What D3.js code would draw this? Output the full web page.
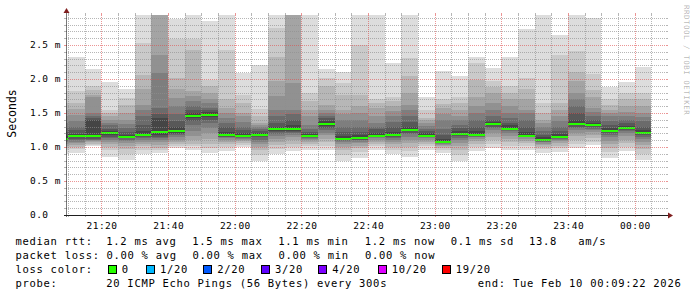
<!DOCTYPE html>
<html><head><meta charset="utf-8">
<script src="https://cdn.jsdelivr.net/npm/d3@7"></script>
<style>
html,body{margin:0;padding:0;background:#fff;}
svg{display:block;}
text{font-family:"DejaVu Sans Mono",monospace;fill:#000;}
</style></head><body>
<svg id="c" width="697" height="297"></svg>
<script>
// ---- data ----
const slotTimes = ["21:05","21:10","21:15","21:20","21:25","21:30","21:35","21:40","21:45","21:50","21:55",
  "22:00","22:05","22:10","22:15","22:20","22:25","22:30","22:35","22:40","22:45","22:50","22:55",
  "23:00","23:05","23:10","23:15","23:20","23:25","23:30","23:35","23:40","23:45","23:50","23:55","00:00"];
const medians = [1.12,1.155,1.155,1.20,1.15,1.18,1.22,1.24,1.45,1.47,1.17,1.16,1.18,1.26,1.26,1.16,1.34,1.12,1.13,
  1.165,1.17,1.25,1.165,1.08,1.19,1.18,1.335,1.27,1.165,1.10,1.15,1.34,1.32,1.24,1.275,1.21];
const lossPct = [0,0,0,0,0,0,0,0,0,0,0,0,0,0,0,0,0,0,0,0,0,0,0,0,0,0,0,0,0,0,0,0,0,0,0,0];
const pings = [
  [0.90,0.96,0.99,1.02,1.05,1.07,1.09,1.10,1.11,1.12,1.13,1.16,1.22,1.28,1.36,1.45,1.55,1.65,1.83,2.30],
  [0.91,0.97,1.00,1.03,1.06,1.08,1.10,1.12,1.14,1.15,1.16,1.19,1.25,1.30,1.38,1.47,1.56,1.65,1.83,2.32],
  [1.01,1.03,1.05,1.07,1.09,1.10,1.11,1.12,1.14,1.15,1.17,1.40,1.42,1.45,1.50,1.73,1.76,1.84,1.90,2.14],
  [0.86,0.95,1.00,1.04,1.07,1.10,1.13,1.15,1.18,1.19,1.21,1.23,1.27,1.32,1.36,1.40,1.45,1.50,1.55,1.95],
  [0.81,0.90,0.97,1.02,1.06,1.09,1.11,1.13,1.14,1.15,1.16,1.18,1.22,1.28,1.34,1.40,1.50,1.62,1.72,1.86],
  [0.89,0.96,1.01,1.05,1.08,1.11,1.13,1.15,1.17,1.18,1.19,1.24,1.32,1.45,1.55,1.62,1.85,2.06,2.53,3.20],
  [0.91,0.95,0.99,1.03,1.07,1.10,1.13,1.15,1.17,1.20,1.24,1.42,1.48,1.57,2.09,2.36,3.00,3.10,3.20,3.30],
  [0.98,1.02,1.05,1.08,1.11,1.14,1.17,1.19,1.21,1.23,1.25,1.30,1.38,1.48,1.60,1.72,1.86,2.01,2.59,2.88],
  [0.96,1.01,1.05,1.10,1.16,1.24,1.32,1.38,1.42,1.44,1.46,1.50,1.55,1.60,1.68,1.75,1.82,2.43,2.59,3.05],
  [0.91,0.98,1.05,1.12,1.20,1.28,1.35,1.40,1.44,1.46,1.48,1.51,1.54,1.58,1.64,1.70,1.80,1.89,1.99,2.86],
  [0.94,1.00,1.05,1.08,1.11,1.13,1.14,1.15,1.16,1.17,1.18,1.22,1.30,1.36,1.42,1.50,1.58,1.70,2.43,3.10],
  [1.00,1.03,1.06,1.09,1.11,1.12,1.13,1.14,1.15,1.16,1.17,1.20,1.25,1.30,1.37,1.45,1.50,1.65,1.77,2.09],
  [0.80,0.88,0.95,1.00,1.04,1.08,1.11,1.14,1.16,1.17,1.19,1.21,1.23,1.26,1.29,1.32,1.36,1.45,1.56,2.20],
  [0.89,0.97,1.03,1.08,1.12,1.16,1.19,1.22,1.24,1.25,1.27,1.30,1.36,1.45,1.55,1.75,1.97,2.33,2.75,3.05],
  [0.94,1.00,1.05,1.10,1.14,1.17,1.20,1.22,1.24,1.25,1.27,1.32,1.40,1.48,1.55,1.94,3.00,3.10,3.20,3.30],
  [0.96,1.01,1.05,1.08,1.10,1.12,1.13,1.14,1.15,1.16,1.17,1.19,1.22,1.26,1.33,1.45,1.55,1.68,1.79,3.10],
  [0.96,1.02,1.07,1.12,1.17,1.21,1.25,1.28,1.31,1.33,1.35,1.38,1.42,1.46,1.50,1.55,1.62,1.90,2.02,2.14],
  [0.80,0.88,0.95,1.00,1.04,1.07,1.09,1.10,1.11,1.12,1.13,1.16,1.22,1.30,1.40,1.48,1.55,1.77,1.94,2.11],
  [0.84,0.92,0.98,1.02,1.06,1.08,1.10,1.11,1.12,1.13,1.14,1.17,1.22,1.30,1.40,1.50,1.60,1.77,2.50,3.10],
  [0.96,1.01,1.05,1.08,1.11,1.13,1.14,1.15,1.16,1.16,1.17,1.20,1.26,1.30,1.35,1.45,1.57,1.64,1.70,3.10],
  [0.89,0.95,1.00,1.04,1.08,1.11,1.13,1.15,1.16,1.17,1.18,1.22,1.30,1.37,1.45,1.53,1.60,1.67,1.74,2.23],
  [0.86,0.94,1.00,1.06,1.11,1.15,1.19,1.21,1.23,1.25,1.26,1.30,1.37,1.45,1.55,1.62,1.80,2.04,2.31,3.10],
  [0.96,1.01,1.05,1.08,1.11,1.13,1.14,1.15,1.16,1.17,1.18,1.20,1.23,1.27,1.31,1.36,1.40,1.43,1.55,1.74],
  [0.91,0.96,0.99,1.01,1.03,1.05,1.06,1.07,1.07,1.08,1.09,1.12,1.18,1.27,1.40,1.48,1.57,1.63,1.70,2.12],
  [0.80,0.88,0.95,1.01,1.06,1.10,1.13,1.16,1.18,1.19,1.21,1.24,1.28,1.33,1.40,1.45,1.55,1.65,1.74,2.05],
  [0.94,1.00,1.05,1.09,1.12,1.14,1.15,1.16,1.17,1.18,1.19,1.23,1.30,1.40,1.50,1.60,1.74,1.99,2.24,2.33],
  [0.99,1.05,1.10,1.15,1.20,1.25,1.28,1.30,1.32,1.33,1.35,1.37,1.40,1.46,1.55,1.65,1.79,1.88,1.97,2.16],
  [0.96,1.02,1.07,1.12,1.16,1.20,1.23,1.25,1.26,1.27,1.28,1.32,1.36,1.42,1.50,1.60,1.70,1.80,1.89,2.32],
  [0.96,1.02,1.06,1.09,1.12,1.14,1.15,1.16,1.17,1.17,1.18,1.22,1.30,1.40,1.50,1.55,1.70,1.85,2.02,2.73],
  [0.91,0.97,1.00,1.03,1.05,1.07,1.08,1.09,1.10,1.10,1.11,1.14,1.18,1.24,1.30,1.35,1.40,1.50,1.65,3.10],
  [0.92,0.98,1.02,1.06,1.09,1.11,1.12,1.13,1.14,1.15,1.16,1.19,1.24,1.30,1.38,1.45,1.55,1.65,2.36,2.64],
  [0.98,1.04,1.10,1.16,1.21,1.25,1.28,1.30,1.32,1.34,1.35,1.40,1.50,1.60,1.70,1.79,1.97,2.11,2.41,3.10],
  [1.03,1.08,1.13,1.18,1.22,1.25,1.27,1.29,1.31,1.32,1.33,1.36,1.40,1.45,1.52,1.57,1.74,1.84,2.08,2.90],
  [0.84,0.92,0.98,1.04,1.09,1.14,1.18,1.21,1.23,1.24,1.25,1.28,1.32,1.38,1.45,1.50,1.55,1.62,1.70,1.88],
  [0.94,1.00,1.06,1.11,1.16,1.20,1.23,1.25,1.27,1.28,1.29,1.31,1.35,1.40,1.45,1.52,1.60,1.70,1.79,1.95],
  [0.81,0.90,0.97,1.03,1.08,1.12,1.15,1.18,1.20,1.21,1.22,1.25,1.30,1.38,1.44,1.50,1.60,1.70,1.80,2.18]
];
const yMax = 2.941;
const yTicks = [0, 0.5, 1.0, 1.5, 2.0, 2.5];
const yTickLabels = ["0.0", "0.5 m", "1.0 m", "1.5 m", "2.0 m", "2.5 m"];
const xTickLabels = ["21:20","21:40","22:00","22:20","22:40","23:00","23:20","23:40","00:00"];
const lossThresholds = [0, 1, 2, 3, 4, 10, 19];
const lossLabels = ["0","1/20","2/20","3/20","4/20","10/20","19/20"];
const lossColors = ["#26ff00","#00b8ff","#0059ff","#5e00ff","#7e00ff","#dd00ff","#ff0000"];
const statsRtt = ["1.2 ms avg","1.5 ms max","1.1 ms min","1.2 ms now","0.1 ms sd","13.8   am/s"];
const statsLoss = ["0.00 % avg","0.00 % max","0.00 % min","0.00 % now"];
const probeText = "20 ICMP Echo Pings (56 Bytes) every 300s";
const endText = "end: Tue Feb 10 00:09:22 2026";

// ---- chart ----
const svg = d3.select('#c');
const X0 = 66, X1 = 666, Y0 = 215, Y1 = 15;
const startT = new Date(2026,1,9,21,9,22), endT = new Date(2026,1,10,0,9,22);
const x = d3.scaleTime().domain([startT, endT]).range([X0, X1]);
const y = d3.scaleLinear().domain([0, yMax]).range([Y0, Y1]);
const toDate = s => { const [h,m] = s.split(':').map(Number); return new Date(2026,1,h<12?10:9,h,m); };

svg.append('rect').attr('width',697).attr('height',297).attr('fill','#fff');
svg.append('defs').append('clipPath').attr('id','plot').append('rect')
  .attr('x',X0).attr('y',Y1).attr('width',X1-X0).attr('height',Y0-Y1);

const slots = slotTimes.map((s,i)=>({t0:toDate(s), t1:d3.timeMinute.offset(toDate(s),5), p:pings[i], med:medians[i], loss:lossPct[i]}));
const gp = svg.append('g').attr('clip-path','url(#plot)');
for (let k=0;k<10;k++){
  const c = 19*(9-k)+50;
  gp.append('g').selectAll('rect').data(slots).join('rect')
    .attr('x', d=>x(d.t0)).attr('width', d=>x(d.t1)-x(d.t0))
    .attr('y', d=>y(d.p[19-k])).attr('height', d=>y(d.p[k])-y(d.p[19-k]))
    .attr('fill', d3.rgb(c,c,c)).attr('shape-rendering','crispEdges');
}
const lossColor = l => { let c = lossColors[0]; lossThresholds.forEach((t,i)=>{ if (l>=t && t>0) c = lossColors[i]; }); return c; };
gp.append('g').selectAll('rect').data(slots).join('rect')
  .attr('x', d=>x(d.t0)).attr('width', d=>x(d.t1)-x(d.t0))
  .attr('y', d=>y(d.med)-1).attr('height', 2)
  .attr('fill', d=>lossColor(d.loss)).attr('shape-rendering','crispEdges');

// grid
const gg = svg.append('g').attr('shape-rendering','crispEdges');
const minorC = 'rgba(143,143,143,0.65)', majorC = 'rgba(222,79,79,0.6)';
const hv = d3.range(1, Math.floor(yMax*10)+1).map(i=>i/10);
hv.forEach(v=>{
  const major = Math.abs(v*2 - Math.round(v*2))<1e-6;
  const yy = Math.round(y(v)) + 0.5, col = major?majorC:minorC;
  gg.append('line').attr('x1',X0).attr('x2',X1).attr('y1',yy).attr('y2',yy).attr('stroke',col).attr('stroke-dasharray','1,1');
  gg.append('line').attr('x1',X0-2).attr('x2',X0).attr('y1',yy).attr('y2',yy).attr('stroke',col);
  gg.append('line').attr('x1',X1).attr('x2',X1+2).attr('y1',yy).attr('y2',yy).attr('stroke',col);
});
x.ticks(d3.timeMinute.every(5)).forEach(t=>{
  const major = t.getMinutes()%20===0;
  const xx = Math.round(x(t)) + 0.5, col = major?majorC:minorC;
  gg.append('line').attr('x1',xx).attr('x2',xx).attr('y1',Y1).attr('y2',Y0).attr('stroke',col).attr('stroke-dasharray','1,1');
  gg.append('line').attr('x1',xx).attr('x2',xx).attr('y1',Y1-2).attr('y2',Y1).attr('stroke',col);
  gg.append('line').attr('x1',xx).attr('x2',xx).attr('y1',Y0).attr('y2',Y0+2).attr('stroke',col);
});

// axes
svg.append('line').attr('x1',X0-2).attr('x2',X1+5).attr('y1',Y0+0.5).attr('y2',Y0+0.5).attr('stroke','#1f1f1f');
svg.append('line').attr('x1',X0+0.5).attr('x2',X0+0.5).attr('y1',Y0+2).attr('y2',Y1-4).attr('stroke','#1f1f1f').attr('stroke-opacity',0.6);
svg.append('path').attr('d',`M${X1+2},${Y0-2.5}L${X1+7},${Y0+0.5}L${X1+2},${Y0+3.5}Z`).attr('fill','#801f1f');
svg.append('path').attr('d',`M${X0-2.5},${Y1-2}L${X0+0.5},${Y1-7}L${X0+3.5},${Y1-2}Z`).attr('fill','#801f1f');

// tick labels
const axFont = {size:'9.5px', ls:'0.45px'};
svg.append('g').selectAll('text').data(yTicks).join('text')
  .attr('x',30).attr('y',d=>y(d)+3.4).attr('font-size',axFont.size).attr('letter-spacing',axFont.ls)
  .text((d,i)=>yTickLabels[i]);
const xTickDates = xTickLabels.map(toDate);
svg.append('g').selectAll('text').data(xTickDates).join('text')
  .attr('x',d=>x(d)+0.6).attr('y',228.5).attr('text-anchor','middle').attr('font-size',axFont.size).attr('letter-spacing',axFont.ls)
  .text((d,i)=>xTickLabels[i]);

svg.append('text').attr('transform','translate(15.5,113.5) rotate(-90)').attr('text-anchor','middle')
  .attr('font-size','11.5px').text('Seconds');
svg.append('text').attr('transform','translate(684,5) rotate(90)').attr('font-size','7.5px').attr('letter-spacing','0.5px')
  .attr('fill','#000').attr('fill-opacity',0.3).text('RRDTOOL / TOBI OETIKER');

// legend
const lg = svg.append('g').attr('font-size','10.5px').attr('letter-spacing','0.7px');
const rowY = [244.5, 258.5, 272.5, 286.5];
const put = (s, xx, yy) => lg.append('text').attr('x',xx).attr('y',yy).attr('xml:space','preserve').style('white-space','pre').text(s);
put('median rtt:', 15.5, rowY[0]);
[106.3,192.3,278.3,364.8,450.8,529].forEach((xx,i)=>put(statsRtt[i], xx, rowY[0]));
put('packet loss:', 15.5, rowY[1]);
[106.5,192.5,278.5,365].forEach((xx,i)=>put(statsLoss[i], xx, rowY[1]));
put('loss color:', 15.5, rowY[2]);
const sqX = [107.7,146,203.3,261,318.3,377.7,441.7];
lossLabels.forEach((l,i)=>{
  lg.append('rect').attr('x',sqX[i]+0.5).attr('y',265.5).attr('width',8).attr('height',8)
    .attr('fill',lossColors[i]).attr('stroke','#000').attr('stroke-width',1).attr('shape-rendering','crispEdges');
  put(l, sqX[i]+14, rowY[2]);
});
put('probe:', 15.5, rowY[3]);
put(probeText, 106.3, rowY[3]);
put(endText, 477.8, rowY[3]);
</script>
</body></html>
